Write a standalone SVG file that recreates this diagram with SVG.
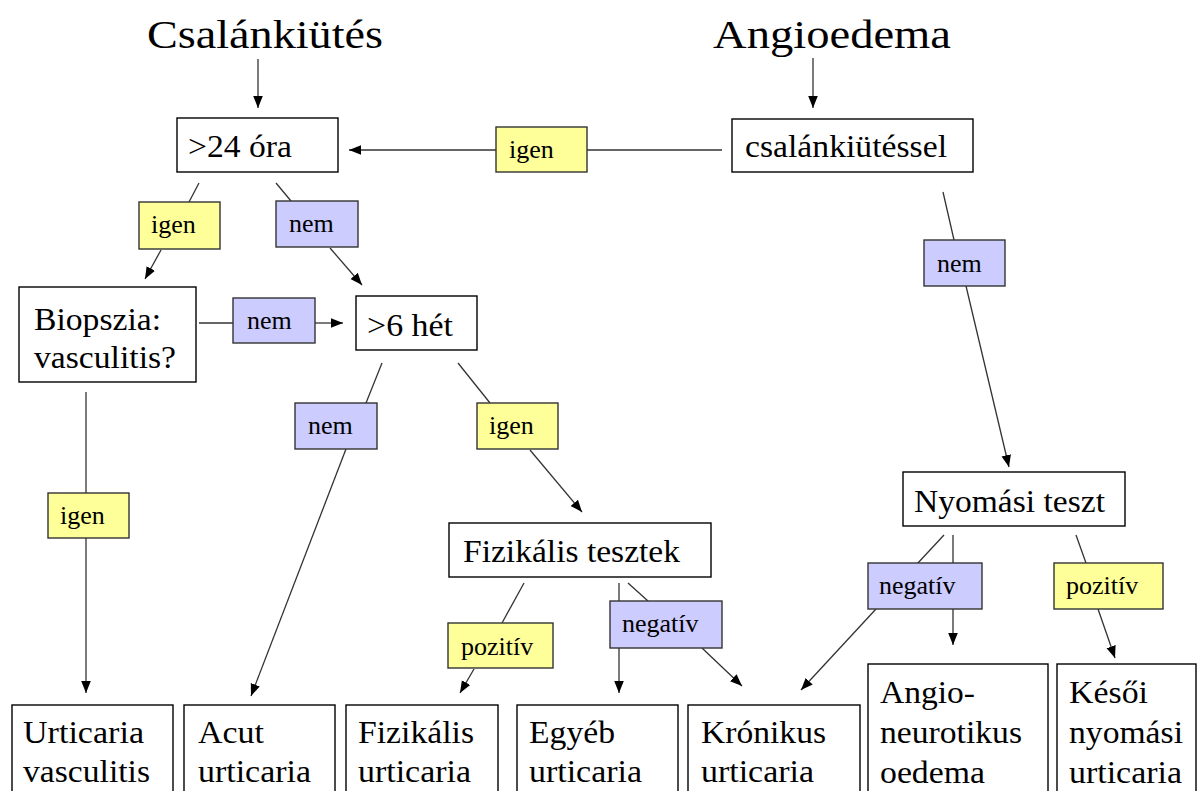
<svg xmlns="http://www.w3.org/2000/svg" width="1197" height="791" viewBox="0 0 1197 791" font-family="'Liberation Serif', Tinos, 'Times New Roman', 'DejaVu Serif', serif">
<style>
text{font-family:'Liberation Serif',Tinos,'Times New Roman','DejaVu Serif',serif;fill:#000}
.title{font-size:40px}
.t{font-size:31px}
.lt{font-size:26px}
.box{fill:#fff;stroke:#000;stroke-width:1.4}
.yes{fill:#FFFF99;stroke:#333;stroke-width:1.4}
.no{fill:#CCCCFF;stroke:#333;stroke-width:1.4}
.c{stroke:#333;stroke-width:1.3;fill:none}
.a{marker-end:url(#ah)}
</style>
<defs>
<marker id="ah" viewBox="0 0 10 10" refX="10" refY="5" markerWidth="12" markerHeight="12" markerUnits="userSpaceOnUse" orient="auto">
<path d="M0,1 L10,5 L0,9 z" fill="#000"/>
</marker>
</defs>
<rect width="1197" height="791" fill="#fff"/>
<g id="connectors">
<line class="c a" x1="258" y1="59" x2="258" y2="108"/>
<line class="c a" x1="813" y1="58" x2="813" y2="108"/>
<line class="c" x1="722" y1="150" x2="587" y2="150"/>
<line class="c a" x1="496" y1="150" x2="349" y2="150"/>
<line class="c" x1="199" y1="183" x2="189" y2="202"/>
<line class="c a" x1="161" y1="250" x2="145" y2="279"/>
<line class="c" x1="276" y1="183" x2="291" y2="201"/>
<line class="c a" x1="330" y1="248" x2="362" y2="285"/>
<line class="c" x1="199" y1="323" x2="233" y2="323"/>
<line class="c a" x1="315" y1="323" x2="343" y2="323"/>
<line class="c" x1="86" y1="392" x2="86" y2="493"/>
<line class="c a" x1="86" y1="538" x2="86" y2="693"/>
<line class="c" x1="382" y1="363" x2="366" y2="403"/>
<line class="c a" x1="346" y1="449" x2="251" y2="696"/>
<line class="c" x1="458" y1="363" x2="490" y2="403"/>
<line class="c a" x1="530" y1="450" x2="582" y2="512"/>
<line class="c" x1="524" y1="583" x2="502" y2="623"/>
<line class="c a" x1="474" y1="669" x2="460" y2="693"/>
<line class="c" x1="619" y1="583" x2="619" y2="601"/>
<line class="c a" x1="619" y1="648" x2="619" y2="693"/>
<line class="c" x1="628" y1="583" x2="648" y2="601"/>
<line class="c a" x1="702" y1="648" x2="742" y2="686"/>
<line class="c" x1="943" y1="192" x2="954" y2="240"/>
<line class="c a" x1="966" y1="286" x2="1009" y2="467"/>
<line class="c" x1="944" y1="535" x2="917" y2="564"/>
<line class="c a" x1="876" y1="609" x2="801" y2="690"/>
<line class="c" x1="953" y1="535" x2="953" y2="563"/>
<line class="c a" x1="953" y1="609" x2="953" y2="645"/>
<line class="c" x1="1076" y1="535" x2="1086" y2="563"/>
<line class="c a" x1="1098" y1="609" x2="1115" y2="658"/>
</g>
<g id="title-csalankiutes"><text class="title" x="147" y="48" textLength="236" lengthAdjust="spacingAndGlyphs">Csalánkiütés</text></g>
<g id="title-angioedema"><text class="title" x="713" y="48" textLength="238" lengthAdjust="spacingAndGlyphs">Angioedema</text></g>
<g id="n-24ora"><rect class="box" x="177" y="118" width="161" height="54"/><text class="t" x="188" y="157" textLength="104" lengthAdjust="spacingAndGlyphs">&gt;24 óra</text></g>
<g id="n-csalankiutessel"><rect class="box" x="732" y="119" width="241" height="53"/><text class="t" x="745" y="157" textLength="202" lengthAdjust="spacingAndGlyphs">csalánkiütéssel</text></g>
<g id="n-biopszia"><rect class="box" x="19" y="287" width="177" height="95"/><text class="t" x="34" y="330" textLength="127" lengthAdjust="spacingAndGlyphs">Biopszia:</text><text class="t" x="34" y="368" textLength="142" lengthAdjust="spacingAndGlyphs">vasculitis?</text></g>
<g id="n-6het"><rect class="box" x="356" y="296" width="121" height="54"/><text class="t" x="367" y="336" textLength="86" lengthAdjust="spacingAndGlyphs">&gt;6 hét</text></g>
<g id="n-fizikalis-tesztek"><rect class="box" x="449" y="523" width="262" height="54"/><text class="t" x="463" y="562" textLength="217" lengthAdjust="spacingAndGlyphs">Fizikális tesztek</text></g>
<g id="n-nyomasi-teszt"><rect class="box" x="903" y="472" width="222" height="54"/><text class="t" x="914" y="512" textLength="191" lengthAdjust="spacingAndGlyphs">Nyomási teszt</text></g>
<g id="n-urticaria-vasculitis"><rect class="box" x="12" y="705" width="161" height="100"/><text class="t" x="23" y="743" textLength="121" lengthAdjust="spacingAndGlyphs">Urticaria</text><text class="t" x="23" y="782" textLength="127" lengthAdjust="spacingAndGlyphs">vasculitis</text></g>
<g id="n-acut"><rect class="box" x="184" y="705" width="151" height="100"/><text class="t" x="198" y="743" textLength="66" lengthAdjust="spacingAndGlyphs">Acut</text><text class="t" x="198" y="782" textLength="113" lengthAdjust="spacingAndGlyphs">urticaria</text></g>
<g id="n-fizikalis-urticaria"><rect class="box" x="346" y="705" width="152" height="100"/><text class="t" x="358" y="743" textLength="116" lengthAdjust="spacingAndGlyphs">Fizikális</text><text class="t" x="358" y="782" textLength="113" lengthAdjust="spacingAndGlyphs">urticaria</text></g>
<g id="n-egyeb"><rect class="box" x="517" y="705" width="161" height="100"/><text class="t" x="529" y="743" textLength="86" lengthAdjust="spacingAndGlyphs">Egyéb</text><text class="t" x="529" y="782" textLength="113" lengthAdjust="spacingAndGlyphs">urticaria</text></g>
<g id="n-kronikus"><rect class="box" x="688" y="705" width="172" height="100"/><text class="t" x="701" y="743" textLength="125" lengthAdjust="spacingAndGlyphs">Krónikus</text><text class="t" x="701" y="782" textLength="113" lengthAdjust="spacingAndGlyphs">urticaria</text></g>
<g id="n-angioneurotikus"><rect class="box" x="868" y="664" width="180" height="140"/><text class="t" x="880" y="703" textLength="95" lengthAdjust="spacingAndGlyphs">Angio-</text><text class="t" x="880" y="743" textLength="142" lengthAdjust="spacingAndGlyphs">neurotikus</text><text class="t" x="880" y="783" textLength="105" lengthAdjust="spacingAndGlyphs">oedema</text></g>
<g id="n-kesoi"><rect class="box" x="1057" y="664" width="139" height="140"/><text class="t" x="1069" y="703" textLength="79" lengthAdjust="spacingAndGlyphs">Késői</text><text class="t" x="1069" y="743" textLength="114" lengthAdjust="spacingAndGlyphs">nyomási</text><text class="t" x="1069" y="783" textLength="113" lengthAdjust="spacingAndGlyphs">urticaria</text></g>
<g id="l-igen-top"><rect class="yes" x="496" y="127" width="91" height="45"/><text class="lt" x="509" y="158">igen</text></g>
<g id="l-igen-1"><rect class="yes" x="139" y="202" width="81" height="47"/><text class="lt" x="151" y="233">igen</text></g>
<g id="l-nem-1"><rect class="no" x="276" y="201" width="82" height="46"/><text class="lt" x="289" y="232">nem</text></g>
<g id="l-nem-2"><rect class="no" x="233" y="298" width="82" height="45"/><text class="lt" x="247" y="329">nem</text></g>
<g id="l-nem-3"><rect class="no" x="295" y="403" width="82" height="46"/><text class="lt" x="308" y="434">nem</text></g>
<g id="l-igen-2"><rect class="yes" x="477" y="403" width="81" height="46"/><text class="lt" x="489" y="434">igen</text></g>
<g id="l-igen-3"><rect class="yes" x="48" y="493" width="81" height="45"/><text class="lt" x="60" y="524">igen</text></g>
<g id="l-pozitiv-1"><rect class="yes" x="448" y="623" width="105" height="45"/><text class="lt" x="461" y="655">pozitív</text></g>
<g id="l-negativ-1"><rect class="no" x="610" y="601" width="112" height="47"/><text class="lt" x="622" y="632">negatív</text></g>
<g id="l-nem-4"><rect class="no" x="924" y="240" width="81" height="46"/><text class="lt" x="937" y="272">nem</text></g>
<g id="l-negativ-2"><rect class="no" x="868" y="563" width="114" height="46"/><text class="lt" x="879" y="594">negatív</text></g>
<g id="l-pozitiv-2"><rect class="yes" x="1054" y="563" width="109" height="46"/><text class="lt" x="1066" y="594">pozitív</text></g>
</svg>
